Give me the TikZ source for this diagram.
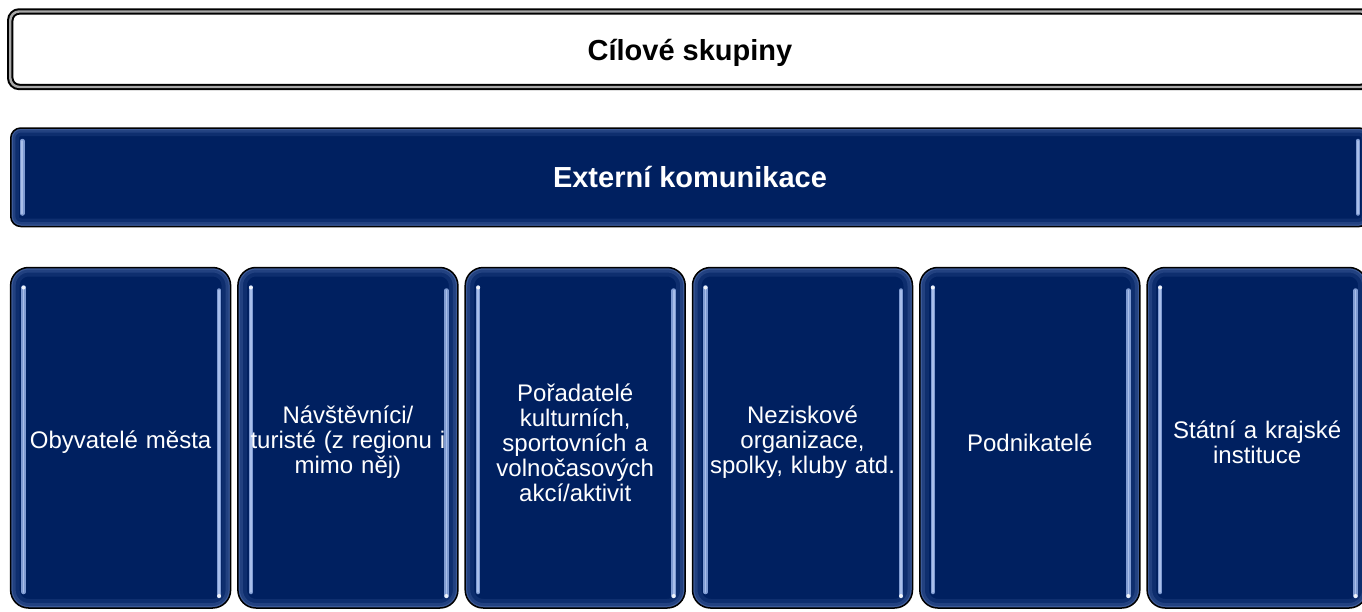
\documentclass[tikz,border=0pt]{standalone}
\usepackage{fontspec}
\setmainfont{Liberation Sans}
\usepackage{tikz}
\usetikzlibrary{calc}
\definecolor{navy}{HTML}{002060}
\definecolor{glow}{HTML}{6A88C4}
\definecolor{hilite}{HTML}{7F9BD2}
\definecolor{hilitecore}{HTML}{A9BFEA}
\definecolor{gap}{HTML}{A8A8A8}

\begin{document}
\begin{tikzpicture}[x=1pt,y=-1pt,
	edgeglow/.style={glow,rounded corners=#1},
	glossy/.style={draw=black,line width=1.5pt,fill=navy,text=white,align=center,inner sep=0pt},
	stripe/.style={hilite,line width=4.5pt,line cap=round},
	stripecore/.style={hilitecore,line width=1.6pt,line cap=round},
	group/.style={glossy,rounded corners=18pt,minimum width=220pt,minimum height=340.5pt,text width=212pt,
		font={\fontsize{24}{25}\selectfont},execute at begin node={\rule{0pt}{27pt}},
		path picture={
			\draw[edgeglow=18pt,line width=18pt,opacity=.14] (path picture bounding box.north west) rectangle (path picture bounding box.south east);
			\draw[edgeglow=18pt,line width=10pt,opacity=.22] (path picture bounding box.north west) rectangle (path picture bounding box.south east);
			\draw[edgeglow=18pt,line width=4pt,opacity=.35] (path picture bounding box.north west) rectangle (path picture bounding box.south east);
			\draw[stripe] ($(path picture bounding box.north west)+(13pt,-20pt)$) -- ($(path picture bounding box.south west)+(13pt,16pt)$);
			\draw[stripecore] ($(path picture bounding box.north west)+(13pt,-20pt)$) -- ($(path picture bounding box.south west)+(13pt,16pt)$);
			\draw[stripe] ($(path picture bounding box.north east)+(-11.5pt,-23pt)$) -- ($(path picture bounding box.south east)+(-11.5pt,12pt)$);
			\draw[stripecore] ($(path picture bounding box.north east)+(-11.5pt,-23pt)$) -- ($(path picture bounding box.south east)+(-11.5pt,12pt)$);
			\fill[white,opacity=.85] ($(path picture bounding box.north west)+(13pt,-20pt)$) circle (2pt);
			\fill[white,opacity=.85] ($(path picture bounding box.south east)+(-11.5pt,12pt)$) circle (2pt);
		}},
	banner/.style={glossy,rounded corners=10pt,minimum width=1358.5pt,minimum height=98.5pt,
		font={\fontsize{29}{33}\bfseries},
		path picture={
			\draw[edgeglow=10pt,line width=16pt,opacity=.14] (path picture bounding box.north west) rectangle (path picture bounding box.south east);
			\draw[edgeglow=10pt,line width=9pt,opacity=.22] (path picture bounding box.north west) rectangle (path picture bounding box.south east);
			\draw[edgeglow=10pt,line width=4pt,opacity=.35] (path picture bounding box.north west) rectangle (path picture bounding box.south east);
			\draw[stripe] ($(path picture bounding box.north west)+(11.5pt,-13pt)$) -- ($(path picture bounding box.south west)+(11.5pt,13pt)$);
			\draw[stripecore] ($(path picture bounding box.north west)+(11.5pt,-13pt)$) -- ($(path picture bounding box.south west)+(11.5pt,13pt)$);
			\draw[stripe] ($(path picture bounding box.north east)+(-11.5pt,-13pt)$) -- ($(path picture bounding box.south east)+(-11.5pt,13pt)$);
			\draw[stripecore] ($(path picture bounding box.north east)+(-11.5pt,-13pt)$) -- ($(path picture bounding box.south east)+(-11.5pt,13pt)$);
		}}]
	\useasboundingbox (0,0) rectangle (1362,611);
	\clip (0,0) rectangle (1362,611);

	\draw (690,49.2) node (targets) [draw=black,double=gap,double distance=2.4pt,line width=2pt,rounded corners=9pt,minimum width=1359.5pt,minimum height=75.5pt,font={\fontsize{29}{33}\bfseries},execute at begin node={\rule{0pt}{29pt}}] {Cílové skupiny};
	\draw (690,177.25) node (external) [banner] {Externí komunikace};

	\draw (120.6,437.75) node (residents) [group] {Obyvatelé města};
	\draw (347.9,437.75) node (visitors) [group] {Návštěvníci/\\turisté (z regionu i\\mimo něj)};
	\draw (575.2,437.75) node (organisers) [group] {Pořadatelé\\kulturních,\\sportovních a\\volnočasových\\akcí/aktivit};
	\draw (802.5,437.75) node (nonprofits) [group] {Neziskové\\organizace,\\spolky, kluby atd.};
	\draw (1029.8,437.75) node (business) [group] {Podnikatelé};
	\draw (1257.1,437.75) node (institutions) [group] {Státní a krajské\\instituce};
\end{tikzpicture}
\end{document}
